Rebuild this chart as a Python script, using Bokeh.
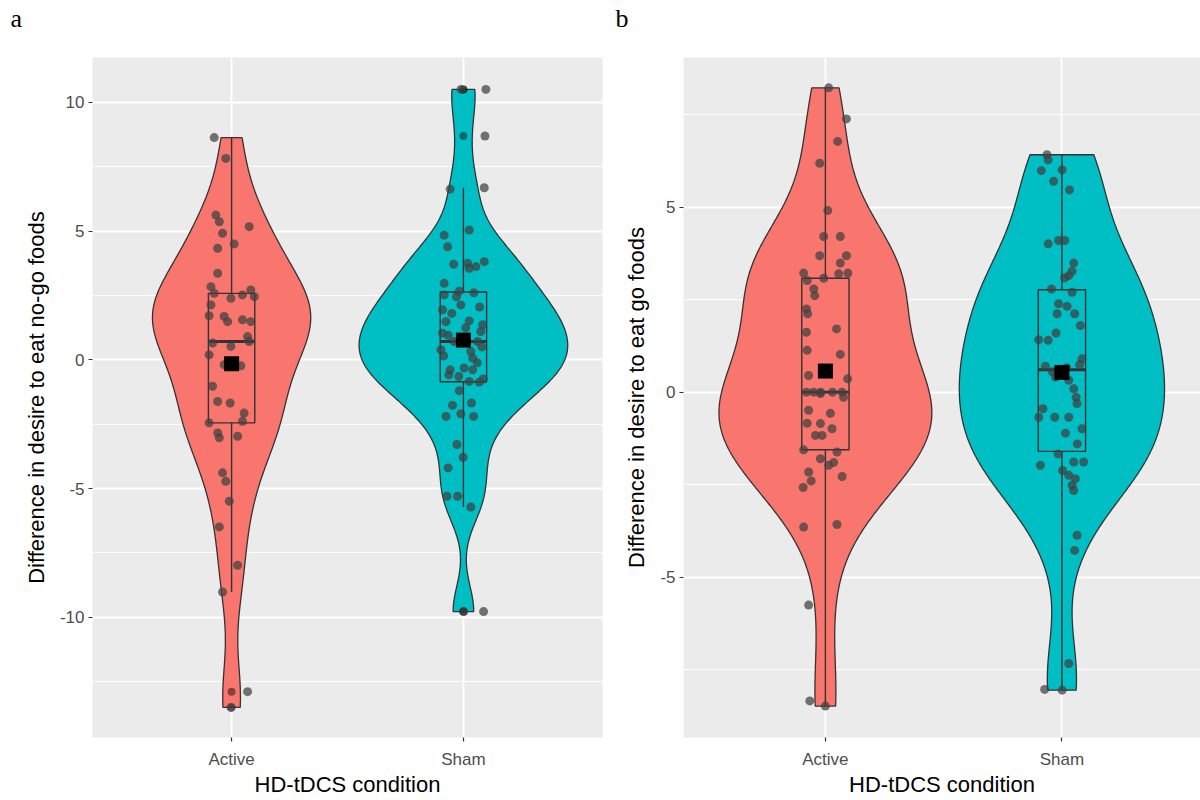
import numpy as np
from bokeh.plotting import figure
from bokeh.layouts import row
from bokeh.models import FixedTicker, Title
from bokeh.embed import file_html
from bokeh.resources import INLINE

# ---------------- data ----------------
conditions = ["Active", "Sham"]
fill_colors = ["#F8766D", "#00BFC4"]

# Panel a: difference in desire to eat no-go foods
active_a = [8.63, 7.82, 5.62, 5.36, 4.91, 5.17, 4.50, 4.33, 3.36, 2.84, 2.58, 2.39, 2.52, 2.71, 2.45,
            2.13, 1.71, 1.68, 1.48, 1.55, 1.48, 0.90, 0.65, 0.52, 0.71, 0.19, -0.19, -0.23, -1.03, -1.62,
            -1.68, -2.07, -2.45, -2.84, -3.03, -2.97, -2.39, -4.39, -4.72, -5.49, -6.49, -7.98, -9.02,
            -12.89, -13.50]
active_a_jitter = [-0.075, -0.025, -0.068, -0.053, -0.039, 0.076, 0.011, -0.060, -0.060, -0.089, -0.075,
                   -0.003, 0.047, 0.083, 0.098, -0.089, -0.097, -0.032, -0.017, 0.047, 0.083, 0.069, -0.082,
                   -0.003, 0.076, -0.097, -0.032, 0.040, -0.082, -0.060, -0.006, 0.054, -0.097, -0.060,
                   -0.053, 0.026, 0.047, -0.039, -0.025, -0.010, -0.053, 0.026, -0.039, 0.069, -0.003]

sham_a = [10.50, 10.50, 8.69, 6.63, 6.68, 5.04, 4.84, 4.39, 3.71, 3.75, 3.55, 3.62, 3.81, 2.97, 2.66,
          2.52, 2.13, 1.94, 1.51, 1.48, 1.36, 1.03, 1.10, 0.71, 0.71, 0.39, 0.32, 0.07, -0.39, -0.32,
          -0.39, -0.58, -0.84, -0.87, -1.20, -1.77, -1.68, -2.20, -2.10, -2.20, -3.29, -3.79, -4.20,
          -5.30, -5.30, -5.72, -9.78, -9.78, 2.60, 2.45, 2.05, 1.80, 1.24, 0.95, 0.50, 0.15, -0.12,
          -0.65, -0.75]
sham_a_jitter = [-0.010, 0.097, 0.093, -0.057, 0.090, 0.025, -0.083, -0.068, -0.042, 0.018, 0.025, 0.054,
                 0.090, -0.083, -0.018, -0.083, -0.011, -0.090, 0.025, -0.075, 0.083, -0.090, 0.075,
                 -0.040, 0.061, -0.097, 0.032, 0.040, -0.057, 0.003, 0.040, -0.063, 0.025, 0.068,
                 -0.018, -0.047, 0.035, -0.075, -0.011, 0.044, -0.028, -0.001, -0.066, -0.071, -0.025,
                 0.032, 0.087, 0.001, 0.045, -0.030, 0.070, -0.050, 0.010, -0.065, 0.080, -0.085, 0.060,
                 -0.020, 0.085]

# Panel b: difference in desire to eat go foods
active_b = [8.23, 7.39, 6.78, 6.19, 4.91, 4.21, 4.21, 3.69, 3.69, 3.49, 3.22, 3.08, 3.20, 3.22, 3.02,
            2.79, 2.61, 2.25, 2.12, 1.62, 1.71, 1.13, 1.02, 0.45, 0.36, -0.04, -0.14, -0.49, -0.57, -0.84,
            -0.85, -0.99, -1.17, -1.17, -1.56, -1.62, -1.80, -1.98, -2.16, -2.28, -2.58, -3.65, -3.58,
            -5.76, -8.35, -8.49, 0.0, 0.0, 0.0, 0.0, 0.0, -1.90, -2.40]
active_b_jitter = [0.014, 0.089, 0.052, -0.024, 0.010, -0.007, 0.063, -0.024, 0.089, 0.063, -0.092, -0.007,
                   0.056, 0.095, -0.077, -0.049, -0.045, -0.080, -0.075, -0.080, 0.047, -0.077, 0.063,
                   -0.071, 0.094, -0.021, 0.077, -0.071, 0.021, -0.077, -0.021, 0.028, -0.042, -0.014,
                   -0.092, 0.049, -0.021, 0.014, -0.071, 0.071, -0.094, -0.092, 0.049, -0.071, -0.066,
                   0.000, -0.080, -0.050, -0.020, 0.030, 0.070, 0.035, -0.060]

sham_b = [6.42, 6.28, 5.99, 6.01, 5.70, 5.47, 4.01, 4.10, 4.10, 3.49, 3.27, 3.15, 3.09, 2.79, 2.70,
          2.39, 2.32, 2.12, 2.12, 1.80, 1.42, 1.40, 0.90, 0.41, 0.32, 0.09, -0.14, -0.31, -0.68, -0.68,
          -0.68, -0.99, -1.11, -1.67, -1.98, -1.89, -1.89, -2.12, -2.25, -2.34, -2.52, -2.66, -3.87,
          -4.28, -7.34, -8.04, -8.06, 0.55, 0.66, 0.70, 0.74, 1.60, -1.40, -0.45]
sham_b_jitter = [-0.063, -0.058, -0.087, 0.001, -0.035, 0.032, -0.058, -0.014, 0.012, 0.050, 0.043, 0.029,
                 0.012, -0.044, 0.043, -0.014, 0.022, -0.020, 0.054, 0.078, -0.098, -0.058, 0.085,
                 -0.027, 0.029, 0.050, 0.060, 0.064, -0.098, -0.030, 0.029, 0.085, 0.015, -0.016, -0.091,
                 0.050, 0.092, 0.003, 0.029, 0.057, 0.043, 0.050, 0.064, 0.054, 0.029, -0.073, 0.001,
                 -0.040, 0.020, -0.070, 0.075, -0.025, 0.065, -0.080]

ticks_a = [-10, -5, 0, 5, 10]
minor_a = [-12.5, -7.5, -2.5, 2.5, 7.5]
ticks_b = [-5, 0, 5]
minor_b = [-7.5, -2.5, 2.5, 7.5]

ylabel_a = "Difference in desire to eat no-go foods"
ylabel_b = "Difference in desire to eat go foods"
xlabel = "HD-tDCS condition"


# ---------------- statistics (as ggplot computes them) ----------------
def bw_nrd0(x):
    hi = np.std(x, ddof=1)
    q75, q25 = np.percentile(x, [75, 25])
    lo = min(hi, (q75 - q25) / 1.34)
    return 0.9 * lo * len(x) ** -0.2


def density(x):
    x = np.asarray(x, float)
    bw = bw_nrd0(x)
    grid = np.linspace(x.min(), x.max(), 512)
    d = np.exp(-0.5 * ((grid[:, None] - x[None, :]) / bw) ** 2).sum(1) / (len(x) * bw * np.sqrt(2 * np.pi))
    return grid, d


def box_stats(x):
    x = np.asarray(x, float)
    q1, med, q3 = np.percentile(x, [25, 50, 75])
    iqr = q3 - q1
    lo_f, hi_f = q1 - 1.5 * iqr, q3 + 1.5 * iqr
    inside = x[(x >= lo_f) & (x <= hi_f)]
    out = x[(x < lo_f) | (x > hi_f)]
    return q1, med, q3, inside.min(), inside.max(), out, x.mean()


DARK = "#333333"


def make_panel(groups, jitters, ylabel, ticks, minor, y_range, x_end, width, b_left, b_right, letter, letter_off):
    p = figure(width=width, height=800, x_range=(0.4, x_end), y_range=y_range,
               output_backend="svg", toolbar_location=None,
               min_border_left=b_left, min_border_right=b_right,
               min_border_top=57, min_border_bottom=63)
    p.background_fill_color = "#EBEBEB"
    p.border_fill_color = "white"
    p.outline_line_color = None

    # spacer between the panel letter and the plotting area
    p.add_layout(Title(text=" ", text_font_size="10px", standoff=12), "above")
    p.title.text = letter
    p.title.align = "left"
    p.title.offset = letter_off
    p.title.standoff = 0
    p.title.text_font = "Liberation Serif"
    p.title.text_font_size = "26px"
    p.title.text_font_style = "normal"
    p.title.text_color = "black"

    xt = FixedTicker(ticks=[1, 2])
    yt = FixedTicker(ticks=ticks, minor_ticks=minor)
    p.xaxis.ticker = xt
    p.xgrid.ticker = xt
    p.yaxis.ticker = yt
    p.ygrid.ticker = yt
    p.xaxis.major_label_overrides = {1: conditions[0], 2: conditions[1]}
    p.yaxis.major_label_overrides = {t: str(t) for t in ticks}

    for g in (p.xgrid, p.ygrid):
        g.grid_line_color = "white"
        g.grid_line_width = 1.8
    p.ygrid.minor_grid_line_color = "white"
    p.ygrid.minor_grid_line_width = 0.9

    for ax in (p.xaxis, p.yaxis):
        ax.axis_line_color = None
        ax.major_tick_line_color = DARK
        ax.major_tick_line_width = 1.2
        ax.major_tick_out = 4
        ax.major_tick_in = 0
        ax.minor_tick_line_color = None
        ax.major_label_text_color = "#4D4D4D"
        ax.major_label_text_font = "Liberation Sans"
        ax.major_label_text_font_size = "17px"
        ax.axis_label_text_font = "Liberation Sans"
        ax.axis_label_text_font_size = "22px"
        ax.axis_label_text_font_style = "normal"
        ax.axis_label_text_color = "black"
    p.xaxis.major_label_standoff = 8
    p.xaxis.axis_label_standoff = 0
    p.yaxis.major_label_standoff = 4
    p.yaxis.axis_label_standoff = 8
    p.xaxis.axis_label = xlabel
    p.yaxis.axis_label = ylabel

    dens = [density(g) for g in groups]
    maxd = max(d.max() for _, d in dens)
    for i, (g, jit, (grid, d)) in enumerate(zip(groups, jitters, dens)):
        c = i + 1
        hw = d / maxd * 0.45
        xs = np.concatenate([c - hw, (c + hw)[::-1]])
        ys = np.concatenate([grid, grid[::-1]])
        p.patch(xs, ys, fill_color=fill_colors[i], line_color=DARK, line_width=1.3)

        q1, med, q3, lo, hi, out, mean = box_stats(g)
        p.quad(left=[c - 0.1], right=[c + 0.1], bottom=[q1], top=[q3],
               fill_color=None, line_color=DARK, line_width=1.4)
        p.segment(x0=[c, c], y0=[q3, q1], x1=[c, c], y1=[hi, lo], line_color=DARK, line_width=1.4)
        p.segment(x0=[c - 0.1], y0=[med], x1=[c + 0.1], y1=[med], line_color=DARK, line_width=2.8)
        if len(out):
            p.scatter(np.full(len(out), c), out, size=8, fill_color="black", line_color=None, fill_alpha=0.45)
        p.scatter(c + np.asarray(jit), g, size=9, fill_color="#404040", line_color=None, fill_alpha=0.72)
        p.scatter([c], [mean], marker="square", size=15, fill_color="black", line_color=None)
    return p


pa = make_panel([active_a, sham_a], [active_a_jitter, sham_a_jitter], ylabel_a, ticks_a, minor_a,
                (-14.67, 11.74), 2.6, 612, 92, 10, "a", -82)
pb = make_panel([active_b, sham_b], [active_b_jitter, sham_b_jitter], ylabel_b, ticks_b, minor_b,
                (-9.34, 9.05), 2.586, 588, 71, 0, "b", -68)

layout = row(pa, pb)
open("out.html", "w").write(file_html(layout, INLINE))
